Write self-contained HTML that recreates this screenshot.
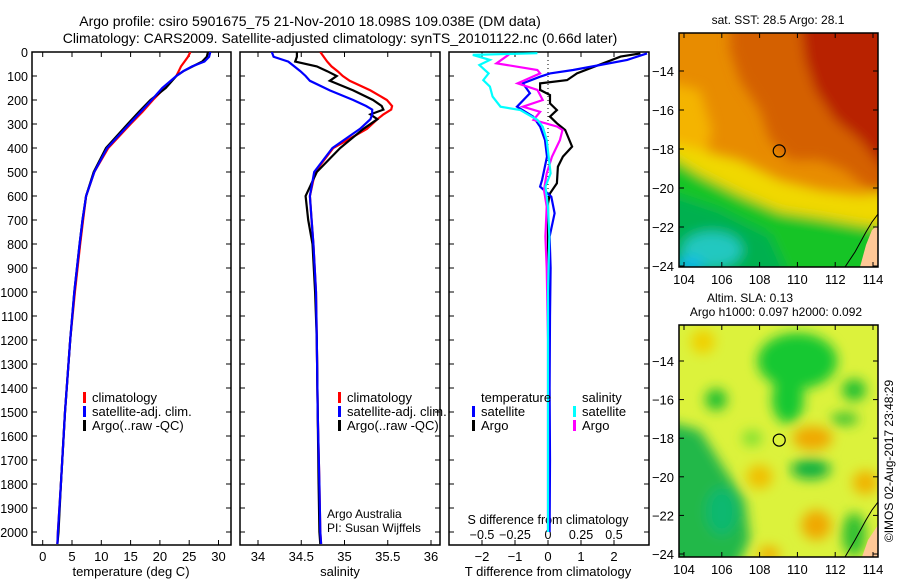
<!DOCTYPE html>
<html><head><meta charset="utf-8"><style>
html,body{margin:0;padding:0;background:#fff;}
svg{display:block;font-family:"Liberation Sans",sans-serif;}
</style></head><body>
<svg id="fig" width="900" height="580" viewBox="0 0 900 580">
<defs>
<filter id="blur6" x="-20%" y="-20%" width="140%" height="140%"><feGaussianBlur stdDeviation="6"/></filter>
<clipPath id="c1"><rect x="32" y="52" width="199" height="493"/></clipPath>
<clipPath id="c2"><rect x="240" y="52" width="200" height="493"/></clipPath>
<clipPath id="c3"><rect x="449" y="52" width="200" height="493"/></clipPath>
<clipPath id="cm1"><rect x="679" y="33" width="199" height="234"/></clipPath>
<clipPath id="cm2"><rect x="679" y="325" width="199" height="232"/></clipPath>
</defs>
<text x="310" y="26" text-anchor="middle" font-size="14">Argo profile: csiro 5901675_75 21-Nov-2010 18.098S 109.038E (DM data)</text>
<text x="340" y="43" text-anchor="middle" font-size="14">Climatology: CARS2009. Satellite-adjusted climatology: synTS_20101122.nc (0.66d later)</text>
<g id="g"></g>
</svg>
<script>
// ---- data ----
const tDepth=[0,20,40,60,80,100,150,200,250,300,400,500,600,700,800,1000,1200,1500,1800,2000,2050];
const tClim=[25.2,24.8,24.2,23.6,23.2,22.8,20.8,18.8,17.0,15.0,11.2,8.8,7.4,6.9,6.4,5.5,4.7,3.8,3.1,2.6,2.5];
const tSat=[28.6,28.4,27.6,25.5,24.0,22.8,20.4,18.6,16.7,14.8,11.0,8.8,7.4,6.8,6.3,5.4,4.7,3.8,3.1,2.6,2.5];
const tArgo=[28.2,28.0,27.2,25.6,24.0,22.8,21.0,18.4,16.4,14.5,10.8,8.7,7.4,6.8,6.3,5.4,4.7,3.8,3.1,2.7,2.5];
const sDepth=[0,20,40,60,80,100,120,160,200,225,240,260,280,320,400,500,600,700,800,1000,1200,1500,1800,2000,2050];
const sClim=[34.72,34.76,34.8,34.85,34.92,34.98,35.06,35.3,35.49,35.55,35.54,35.45,35.38,35.26,34.87,34.66,34.6,34.62,34.64,34.67,34.68,34.69,34.71,34.72,34.73];
const sSat=[34.16,34.18,34.35,34.42,34.49,34.55,34.6,34.83,35.1,35.25,35.32,35.32,35.3,35.18,34.86,34.65,34.6,34.62,34.64,34.67,34.68,34.69,34.71,34.72,34.73];
const sArgo=[34.45,34.45,34.43,34.68,34.8,34.91,34.83,35.1,35.33,35.43,35.45,35.3,35.38,35.22,34.95,34.68,34.55,34.58,34.63,34.66,34.68,34.69,34.70,34.71,34.72];
const dtSatDepth=[6,33,54,75,89,103,131,172,228,269,311,367,436,533,561,603,672,769,900,1100,1400,1700,2000];
const dtSat=[3.0,2.4,1.58,0.76,0.06,-0.24,-0.76,-0.55,-0.94,-0.45,-0.24,-0.09,-0.03,-0.18,-0.24,0.1,0.2,0.05,0.08,0.06,0.05,0.06,0.05];
const dtArgoDepth=[6,19,89,117,131,158,179,214,242,269,297,325,394,436,478,547,589,631,783,1000,1400,1800,1950];
const dtArgo=[2.8,2.2,0.88,0.58,-0.24,-0.24,0.06,0.06,0.27,0.06,0.27,0.52,0.73,0.45,0.3,0.27,0.06,0,0,0.02,0.02,0.02,0.02];
const dsArgoDepth=[6,12,47,75,89,131,158,200,228,249,283,311,325,367,436,506,575,644,769,900,1200,1500,1800,2000];
const dsArgo=[-0.29,-0.3,-0.39,-0.08,-0.06,-0.23,-0.08,-0.04,-0.19,-0.06,-0.11,0.07,0.11,0.09,0.03,-0.01,-0.03,-0.01,-0.02,-0.01,0,0,0,0];
const dsSatDepth=[5,12,33,54,89,117,144,186,228,242,283,311,367,506,561,644,769,1000,1500,2000];
const dsSat=[-0.08,-0.57,-0.44,-0.52,-0.45,-0.49,-0.44,-0.42,-0.36,-0.21,-0.08,-0.04,-0.01,0.02,-0.02,0.0,0.01,0,0,0];
const depthTicks=[0,100,200,300,400,500,600,700,800,900,1000,1100,1200,1300,1400,1500,1600,1700,1800,1900,2000];
const tTicks=[0,5,10,15,20,25,30];
const sTicks=[34,34.5,35,35.5,36];
const sTickLabels=["34","34.5","35","35.5","36"];
const dtTicks=[-2,-1,0,1,2];
const dsTicks=[-0.5,-0.25,0,0.25,0.5];
const dsTickLabels=["-0.5","-0.25","0","0.25","0.5"];
const latTicks=[-14,-16,-18,-20,-22,-24];
const lonTicks=[104,106,108,110,112,114];
const argoLon=109.038, argoLat=-18.098;

// ---- scales ----
const yD=d=>52+0.24*d;
const xT=t=>42.7+5.86*t;
const xS=s=>258+86.5*(s-34);
const xDT=v=>548+33*v;
const xDS=v=>548+132*v;
const mx=lon=>684+(lon-104)*18.9;
const my1=lat=>71+(-14-lat)*19.5;
const my2=lat=>361+(-14-lat)*19.3;

const NS="http://www.w3.org/2000/svg";
const G=document.getElementById('g');
function el(tag,attrs,parent){const e=document.createElementNS(NS,tag);for(const k in attrs)e.setAttribute(k,attrs[k]);(parent||G).appendChild(e);return e;}
function txt(x,y,s,size,anchor,parent){const e=el('text',{x:x,y:y,'font-size':size,'text-anchor':anchor||'start'},parent);e.textContent=s;return e;}

function line(xs,ds,xf,color,clip,name){
  const pts=xs.map((v,i)=>xf(v).toFixed(1)+','+yD(ds[i]).toFixed(1)).join(' ');
  const p=el('polyline',{points:pts,fill:'none',stroke:color,'stroke-width':2.2,'clip-path':'url(#'+clip+')'});
  
  
}
function frame(x0,x1,name){
  const r=el('rect',{x:x0,y:52,width:x1-x0,height:493,fill:'none',stroke:'#000','stroke-width':1.5});
  
  
  depthTicks.forEach(d=>{el('line',{x1:x0,x2:x0+5,y1:yD(d),y2:yD(d),stroke:'#000'});el('line',{x1:x1,x2:x1-5,y1:yD(d),y2:yD(d),stroke:'#000'});});
}
frame(32,231,'temperature-panel');frame(240,440,'salinity-panel');frame(449,649,'difference-panel');
depthTicks.forEach(d=>{const t=txt(28,yD(d)+5,String(d),12.5,'end');});
tTicks.forEach(v=>{el('line',{x1:xT(v),x2:xT(v),y1:545,y2:540,stroke:'#000'});el('line',{x1:xT(v),x2:xT(v),y1:52,y2:57,stroke:'#000'});const t=txt(xT(v),561,String(v),13,'middle');});
sTicks.forEach((v,i)=>{el('line',{x1:xS(v),x2:xS(v),y1:545,y2:540,stroke:'#000'});el('line',{x1:xS(v),x2:xS(v),y1:52,y2:57,stroke:'#000'});const t=txt(xS(v),561,sTickLabels[i],13,'middle');});
dtTicks.forEach(v=>{el('line',{x1:xDT(v),x2:xDT(v),y1:545,y2:540,stroke:'#000'});el('line',{x1:xDT(v),x2:xDT(v),y1:52,y2:57,stroke:'#000'});const t=txt(xDT(v),561,(v<0?'\u2212':'')+Math.abs(v),13,'middle');});
dsTicks.forEach((v,i)=>{el('line',{x1:xDS(v),x2:xDS(v),y1:545,y2:541,stroke:'#000'});const t=txt(xDS(v),539,dsTickLabels[i].replace('-','\u2212'),12.5,'middle');});
[['temperature (deg C)',131,'x-axis-title-temperature'],['salinity',340,'x-axis-title-salinity'],['T difference from climatology',548,'x-axis-title-t-diff']].forEach(a=>{const t=txt(a[1],576,a[0],13,'middle');});
{const t=txt(548,524,'S difference from climatology',12.5,'middle');}
{const z=el('line',{x1:548,x2:548,y1:52,y2:390,stroke:'#000','stroke-dasharray':'1,3'});}

line(tClim,tDepth,xT,'#ff0000','c1','temperature-climatology-line');
line(tArgo,tDepth,xT,'#000','c1','temperature-argo-line');
line(tSat,tDepth,xT,'#0000ff','c1','temperature-satellite-line');
line(sClim,sDepth,xS,'#ff0000','c2','salinity-climatology-line');
line(sArgo,sDepth,xS,'#000','c2','salinity-argo-line');
line(sSat,sDepth,xS,'#0000ff','c2','salinity-satellite-line');
line(dtArgo,dtArgoDepth,xDT,'#000','c3','t-diff-argo-line');
line(dtSat,dtSatDepth,xDT,'#0000ff','c3','t-diff-satellite-line');
line(dsArgo,dsArgoDepth,xDS,'#ff00ff','c3','s-diff-argo-line');
line(dsSat,dsSatDepth,xDS,'#00ffff','c3','s-diff-satellite-line');

function leg(x,y,color,label,name){
  const g=el('g',{});
  if(color) el('rect',{x:x,y:y-10,width:3,height:11,fill:color},g);
  txt(x+9,y,label,13,'start',g);
}
[[83,'#ff0000','climatology'],[83,'#0000ff','satellite-adj. clim.'],[83,'#000','Argo(..raw -QC)']].forEach((a,i)=>leg(a[0],402+14*i,a[1],a[2],'temperature-legend-entry'));
[[338,'#ff0000','climatology'],[338,'#0000ff','satellite-adj. clim.'],[338,'#000','Argo(..raw -QC)']].forEach((a,i)=>leg(a[0],402+14*i,a[1],a[2],'salinity-legend-entry'));
leg(472,402,null,'temperature','diff-legend-temperature');
leg(472,416,'#0000ff','satellite','diff-legend-t-satellite');
leg(472,430,'#000','Argo','diff-legend-t-argo');
leg(573,402,null,'salinity','diff-legend-salinity');
leg(573,416,'#00ffff','satellite','diff-legend-s-satellite');
leg(573,430,'#ff00ff','Argo','diff-legend-s-argo');
{const t=txt(327,518,'Argo Australia',12);
 const u=txt(327,532,'PI: Susan Wijffels',12);}

// ---- maps ----
function blob(g,lon,lat,rx,ry,color,my){el('ellipse',{cx:mx(lon),cy:my(lat),rx:rx,ry:ry,fill:color},g);}
function mapFrame(y0,y1,my,name){
  const r=el('rect',{x:679,y:y0,width:199,height:y1-y0,fill:'none',stroke:'#000','stroke-width':1.5});
  
  latTicks.forEach(l=>{el('line',{x1:679,x2:684,y1:my(l),y2:my(l),stroke:'#000'});el('line',{x1:878,x2:873,y1:my(l),y2:my(l),stroke:'#000'});
    const t=txt(674,my(l)+5,'\u2212'+Math.abs(l),13,'end');});
  lonTicks.forEach(l=>{el('line',{x1:mx(l),x2:mx(l),y1:y1,y2:y1-5,stroke:'#000'});el('line',{x1:mx(l),x2:mx(l),y1:y0,y2:y0+5,stroke:'#000'});
    const t=txt(mx(l),y1+17,String(l),13,'middle');});
  const c=el('circle',{cx:mx(argoLon),cy:my(argoLat),r:6,fill:'none',stroke:'#000','stroke-width':1.2});
  
}
// SST map
{
 const g=el('g',{'clip-path':'url(#cm1)'});
 el('rect',{x:679,y:33,width:199,height:234,fill:'#e88c00'},g);
 const b=el('g',{filter:'url(#blur6)'},g);
 el('polygon',{points:'730,20 900,20 900,200 870,190 845,170 820,160 790,160 770,140 760,110 740,80 730,50',fill:'#d46000'},b);
 el('polygon',{points:'800,20 900,20 900,180 880,165 860,140 835,120 815,90 805,60',fill:'#b82000'},b);
 el('polygon',{points:'660,80 700,90 712,130 705,160 660,170',fill:'#f4b400'},b);
 el('polygon',{points:'660,140 700,150 740,160 780,180 820,190 860,195 900,190 900,240 860,230 820,225 780,215 740,200 700,185 660,170',fill:'#f0d800'},b);
 el('polygon',{points:'660,150 700,175 740,195 780,212 820,218 860,225 900,230 900,280 660,280',fill:'#18c428'},b);
 el('polygon',{points:'660,190 720,210 770,235 790,280 660,280',fill:'#00b050'},b);
 el('ellipse',{cx:712,cy:250,rx:30,ry:18,fill:'#20c8c0'},b);
 el('ellipse',{cx:690,cy:265,rx:14,ry:8,fill:'#10b8e8'},b);
 el('polygon',{points:'860,267 866,245 872,230 878,225 900,225 900,280 860,280',fill:'#ffc896'},g);
 el('polyline',{points:'845,267 855,252 866,232 872,222 878,214',fill:'none',stroke:'#000','stroke-width':1},g);
 mapFrame(33,267,my1,'sst-map-frame');
 const t=txt(778,24,'sat. SST: 28.5 Argo: 28.1',12,'middle');
}
// SLA map
{
 const g=el('g',{'clip-path':'url(#cm2)'});
 el('rect',{x:679,y:325,width:199,height:232,fill:'#dcf23c'},g);
 const b=el('g',{filter:'url(#blur6)'},g);
 blob(b,110,-14,40,28,'#18c830',my2);blob(b,109.5,-16,16,24,'#18c830',my2);
 blob(b,105.7,-16,11,11,'#20c030',my2);blob(b,113,-15.5,12,11,'#20c030',my2);
 el('polygon',{points:'660,420 700,430 725,470 745,500 750,540 735,570 660,570',fill:'#20b848'},b);
 blob(b,106,-21.8,16,24,'#10b870',my2);
 blob(b,110.7,-19.6,20,10,'#10b040',my2);blob(b,107.6,-18,10,8,'#80e030',my2);
 blob(b,110.8,-18,20,12,'#f0a800',my2);blob(b,111,-22.5,15,15,'#f0a800',my2);
 blob(b,113.6,-20.3,13,12,'#f0b400',my2);blob(b,108,-20,13,12,'#f0c000',my2);
 blob(b,105,-13,12,12,'#f0d000',my2);blob(b,108.5,-24,11,8,'#f0b000',my2);
 blob(b,113,-23,12,22,'#30c030',my2);blob(b,112.5,-17,14,6,'#30c030',my2);
 el('polygon',{points:'862,557 868,540 878,525 900,525 900,570 862,570',fill:'#ffc896'},g);
 el('polyline',{points:'845,557 855,540 866,520 872,510 878,502',fill:'none',stroke:'#000','stroke-width':1},g);
 mapFrame(325,557,my2,'sla-map-frame');
 const t=txt(750,302,'Altim. SLA: 0.13',12,'middle');
 const u=txt(776,316,'Argo h1000: 0.097 h2000: 0.092',12,'middle');
}
{const t=txt(0,0,'\u00a9IMOS 02-Aug-2017 23:48:29',12,'middle');t.setAttribute('transform','translate(893,461) rotate(-90)');}
</script>
</body></html>
